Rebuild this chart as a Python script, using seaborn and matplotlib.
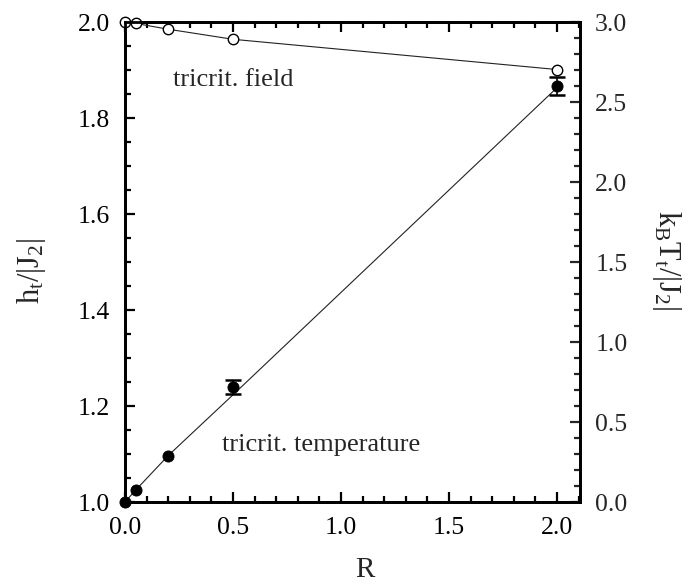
import numpy as np
import pandas as pd
import seaborn as sns
import matplotlib.pyplot as plt
from matplotlib.ticker import MultipleLocator

# tricritical field h_t/|J2| (left axis)
R_field = [0.0, 0.05, 0.2, 0.5, 2.0]
h_field = [1.999, 1.997, 1.985, 1.964, 1.901]

# tricritical temperature kB T_t/|J2| (right axis)
R_temp = [0.0, 0.05, 0.2, 0.5, 2.0]
T_temp = [0.0, 0.075, 0.29, 0.717, 2.60]
T_err = [0.0, 0.0, 0.0, 0.045, 0.056]

# guide line through the temperature points
R_guide = [0.0, 0.05, 0.2, 0.5, 2.0]
T_guide = [0.0, 0.075, 0.29, 0.67, 2.59]

field_df = pd.DataFrame({"R": R_field, "h": h_field})
temp_df = pd.DataFrame({"R": R_temp, "T": T_temp, "err": T_err})
guide_df = pd.DataFrame({"R": R_guide, "T": T_guide})
err_df = temp_df[temp_df["err"] > 0]

sns.set_style("ticks")
plt.rcParams['font.family'] = ['Liberation Serif', 'DejaVu Serif']
plt.rcParams['mathtext.fontset'] = 'custom'
plt.rcParams['mathtext.rm'] = 'Liberation Serif'
plt.rcParams['mathtext.it'] = 'Liberation Serif'

fig = plt.figure(figsize=(6.92, 5.84), dpi=100)
ax = fig.add_axes([0.1806, 0.1404, 0.6575, 0.8219])
ax2 = ax.twinx()

# field curve
sns.lineplot(data=field_df, x="R", y="h", ax=ax, color='#222222', linewidth=0.8,
             marker='o', markersize=7.5, markerfacecolor='white',
             markeredgecolor='black', markeredgewidth=1.0, zorder=3, clip_on=False)

# temperature guide + points with errors
sns.lineplot(data=guide_df, x="R", y="T", ax=ax2, color='#222222', linewidth=0.8)
ax2.errorbar(err_df["R"], err_df["T"], yerr=err_df["err"], fmt='none',
             ecolor='black', elinewidth=1.2, capsize=6, capthick=1.8, zorder=4)
sns.scatterplot(data=temp_df, x="R", y="T", ax=ax2, color='black', s=64,
                edgecolor='black', zorder=5, clip_on=False)

ax.set_xlim(0, 2.106)
ax.set_ylim(1.0, 2.0)
ax2.set_ylim(0.0, 3.0)

ax.xaxis.set_major_locator(MultipleLocator(0.5))
ax.xaxis.set_minor_locator(MultipleLocator(0.1))
ax.yaxis.set_major_locator(MultipleLocator(0.2))
ax.yaxis.set_minor_locator(MultipleLocator(0.05))
ax2.yaxis.set_major_locator(MultipleLocator(0.5))
ax2.yaxis.set_minor_locator(MultipleLocator(0.1))
ax.xaxis.set_major_formatter(lambda v, p: f"{v:.1f}")
ax.yaxis.set_major_formatter(lambda v, p: f"{v:.1f}")
ax2.yaxis.set_major_formatter(lambda v, p: f"{v:.1f}")

ax.tick_params(axis='both', which='both', direction='in', top=True, right=False,
               width=1.6, labelsize=18.5, colors='black')
ax.tick_params(axis='both', which='major', length=7, pad=11)
ax.tick_params(axis='both', which='minor', length=4)
ax2.tick_params(axis='y', which='both', direction='in', width=1.6, labelsize=18.5)
ax2.tick_params(axis='y', which='major', length=7, pad=11)
ax2.tick_params(axis='y', which='minor', length=4)

for a in (ax, ax2):
    for sp in a.spines.values():
        sp.set_linewidth(2.0)
        sp.set_color('black')

ax.set_xlabel("R", fontsize=21)
ax.set_ylabel(r"$\mathrm{h_t/|J_2|}$", fontsize=22)
ax2.set_ylabel(r"$\mathrm{k_BT_t/|J_2|}$", fontsize=22, rotation=270)
ax.xaxis.set_label_coords(0.527, -0.142)
ax.yaxis.set_label_coords(-0.205, 0.481)
ax2.yaxis.set_label_coords(1.191, 0.504)
ax.xaxis.label.set_va('center')
ax.yaxis.label.set_va('center')
ax2.yaxis.label.set_va('center')

ax.text(0.222, 1.867, "tricrit. field", fontsize=19, ha='left', va='baseline')
ax.text(0.449, 1.106, "tricrit. temperature", fontsize=19, ha='left', va='baseline')

fig.savefig("out.png", dpi=100)
